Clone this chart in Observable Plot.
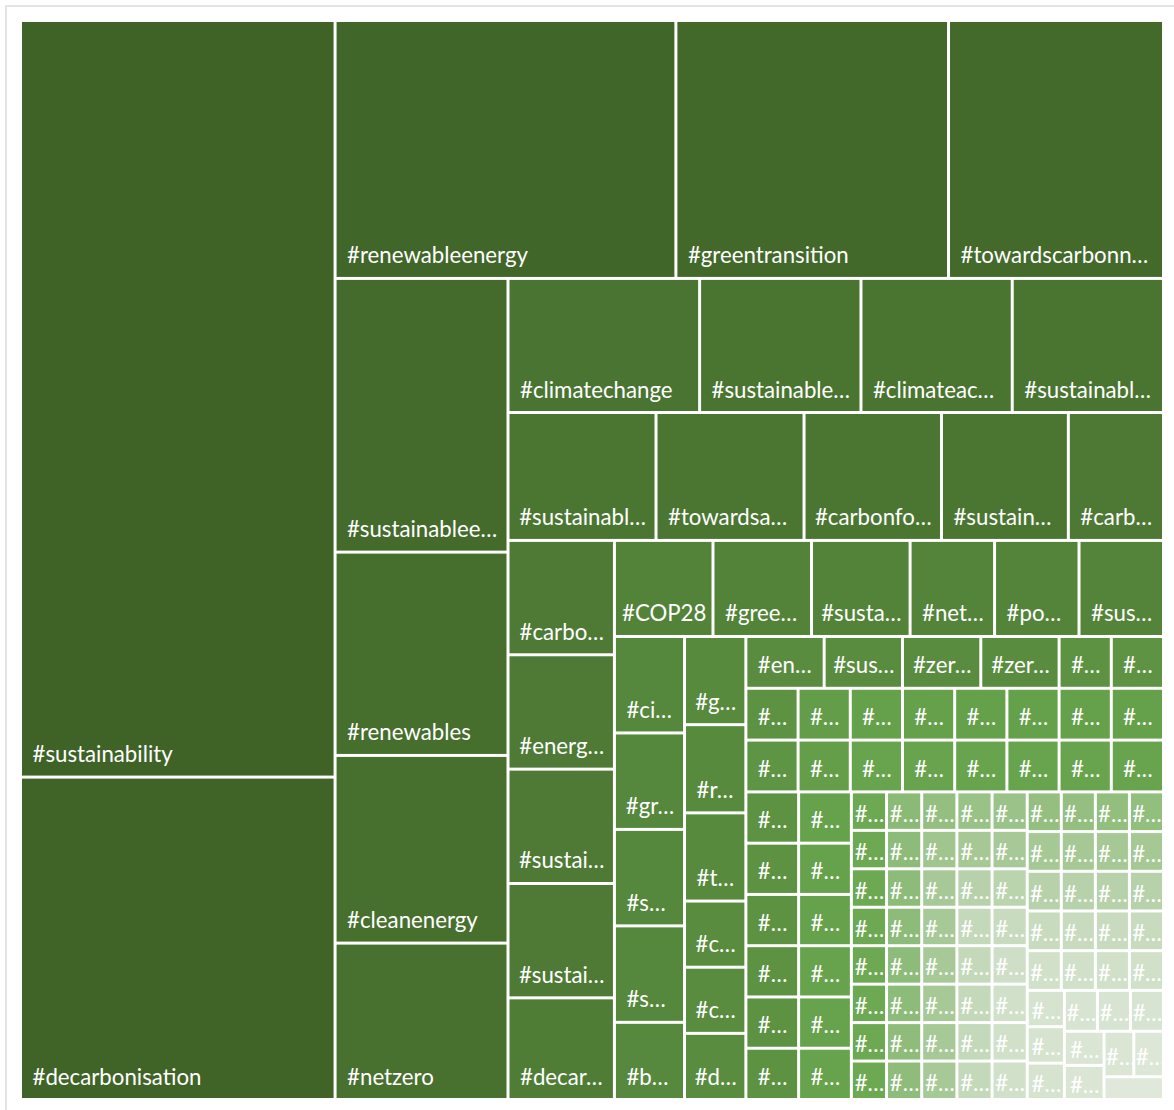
<!DOCTYPE html>
<html>
<head>
<meta charset="utf-8">
<script src="https://cdn.jsdelivr.net/npm/d3@7"></script>
<script src="https://cdn.jsdelivr.net/npm/@observablehq/plot@0.6"></script>
<style>
  html, body { margin: 0; padding: 0; background: #ffffff; overflow: hidden; }
  #frame { position: absolute; left: 5px; top: 5px; width: 1400px; height: 1200px; border: 2px solid #e4e4e4; box-sizing: content-box; }
  #chart { position: absolute; left: 0; top: 0; }
</style>
</head>
<body>
<div id="frame"></div>
<div id="chart"></div>
<script>
// ---- Data (hashtag label as shown, post count = tile size, colour measure = saturation) ----
const labels = [
  "#sustainability", "#decarbonisation", "#renewableenergy", "#greentransition", "#towardscarbonn…",
  "#sustainablee…", "#renewables", "#cleanenergy", "#netzero", "#climatechange",
  "#sustainable…", "#climateac…", "#sustainabl…", "#sustainabl…", "#towardsa…",
  "#carbonfo…", "#sustain…", "#carb…", "#carbo…", "#energ…",
  "#sustai…", "#sustai…", "#decar…", "#COP28", "#gree…",
  "#susta…", "#net…", "#po…", "#sus…", "#ci…",
  "#gr…", "#s…", "#s…", "#b…", "#g…",
  "#r…", "#t…", "#c…", "#c…", "#d…",
  "#en…", "#sus…", "#zer…", "#zer…",
  // 30 tiles with count 2
  "#…", "#…", "#…", "#…", "#…", "#…", "#…", "#…", "#…", "#…",
  "#…", "#…", "#…", "#…", "#…", "#…", "#…", "#…", "#…", "#…",
  "#…", "#…", "#…", "#…", "#…", "#…", "#…", "#…", "#…", "#…",
  // 71 tiles with count 1
  "#…", "#…", "#…", "#…", "#…", "#…", "#…", "#…", "#…", "#…",
  "#…", "#…", "#…", "#…", "#…", "#…", "#…", "#…", "#…", "#…",
  "#…", "#…", "#…", "#…", "#…", "#…", "#…", "#…", "#…", "#…",
  "#…", "#…", "#…", "#…", "#…", "#…", "#…", "#…", "#…", "#…",
  "#…", "#…", "#…", "#…", "#…", "#…", "#…", "#…", "#…", "#…",
  "#…", "#…", "#…", "#…", "#…", "#…", "#…", "#…", "#…", "#…",
  "#…", "#…", "#…", "#…", "#…", "#…", "#…", "#…", "#…", "#…",
  "#…"
];

const counts = [
  176, 75, 65, 52, 41, 35, 26, 24, 20, 19,
  16, 15, 15, 14, 14, 13, 12, 9, 9, 9,
  9, 9, 8, 7, 7, 7, 6, 6, 6, 5,
  5, 5, 5, 4, 4, 4, 4, 3, 3, 3,
  3, 3, 3, 3,
  2, 2, 2, 2, 2, 2, 2, 2, 2, 2,
  2, 2, 2, 2, 2, 2, 2, 2, 2, 2,
  2, 2, 2, 2, 2, 2, 2, 2, 2, 2,
  1, 1, 1, 1, 1, 1, 1, 1, 1, 1,
  1, 1, 1, 1, 1, 1, 1, 1, 1, 1,
  1, 1, 1, 1, 1, 1, 1, 1, 1, 1,
  1, 1, 1, 1, 1, 1, 1, 1, 1, 1,
  1, 1, 1, 1, 1, 1, 1, 1, 1, 1,
  1, 1, 1, 1, 1, 1, 1, 1, 1, 1,
  1, 1, 1, 1, 1, 1, 1, 1, 1, 1,
  1
];

// colour-saturation measure (0 = palest, 100 = darkest)
const shades = [
  100, 99, 98, 96, 95, 94, 92, 91, 90, 88,
  87, 87, 87, 86, 86, 86, 86, 84, 83, 83,
  83, 83, 81, 77, 77, 77, 76, 76, 76, 74,
  74, 74, 74, 73, 72, 72, 72, 70, 70, 70,
  70, 70, 70, 70,
  66, 65,
  66, 58, 56, 56, 56, 56, 56, 56,
  64, 57, 53, 53, 53, 53, 53, 53,
  66, 66, 66, 66, 66, 66,
  55, 55, 55, 54, 54, 54,
  49, 49, 49, 49, 49, 49, 49, 49,
  36, 35, 35, 35, 35, 35, 34, 34,
  32, 27, 24, 24, 24, 24, 24, 24,
  30, 25, 17, 12, 12, 12, 12, 12,
  29, 24, 16, 10, 7, 6, 6, 6,
  32, 32, 33, 33,
  25, 25, 25, 25,
  17, 17, 17, 17,
  10, 10, 10, 10,
  6, 6, 6, 6,
  4, 4, 4,
  3, 3, 3,
  2, 2,
  2, 1,
  0
];

// tiling strips: [number of tiles, "v" = column at left, "h" = row at top]
const strips = [
  [2, "v"], [3, "h"], [4, "v"], [4, "h"], [5, "h"], [5, "v"], [6, "h"], [5, "v"], [6, "v"],
  [6, "h"], [8, "h"], [8, "h"], [6, "v"], [6, "v"],
  [8, "v"], [8, "v"], [8, "v"], [8, "v"], [8, "v"],
  [4, "h"], [4, "h"], [4, "h"], [4, "h"], [4, "h"],
  [3, "v"], [3, "h"], [2, "v"], [2, "h"], [1, "h"]
];

// ---- Layout through d3.treemap with a strip tiler ----
const W = 1143, H = 1079;
const items = labels.map((label, i) => ({label, count: counts[i], shade: shades[i]}));

function stripTile(parent, x0, y0, x1, y1) {
  const nodes = parent.children;
  let remaining = d3.sum(nodes, d => d.value);
  let i = 0, s = 0;
  while (i < nodes.length) {
    const st = strips[s++] || [nodes.length - i, (x1 - x0) < (y1 - y0) ? "h" : "v"];
    const group = nodes.slice(i, i + st[0]);
    const sum = d3.sum(group, d => d.value);
    if (st[1] === "h") {
      const h = (y1 - y0) * sum / remaining;
      let x = x0;
      for (const g of group) {
        const w = (x1 - x0) * g.value / sum;
        g.x0 = x; g.x1 = x + w; g.y0 = y0; g.y1 = y0 + h;
        x += w;
      }
      y0 += h;
    } else {
      const w = (x1 - x0) * sum / remaining;
      let y = y0;
      for (const g of group) {
        const h = (y1 - y0) * g.value / sum;
        g.x0 = x0; g.x1 = x0 + w; g.y0 = y; g.y1 = y + h;
        y += h;
      }
      x0 += w;
    }
    remaining -= sum;
    i += group.length;
  }
}

const root = d3.hierarchy({children: items}).sum(d => d.count || 0);
d3.treemap().tile(stripTile).size([W, H]).round(false)(root);

const cells = root.leaves().map(n => ({
  label: n.data.label, count: n.data.count, shade: n.data.shade,
  x0: n.x0, x1: n.x1, y0: n.y0, y1: n.y1
}));

// ---- Label placement (bottom-left, Calibri-like metrics) ----
const FONT = "Lato";
const ctx = document.createElement("canvas").getContext("2d");
ctx.font = `24px ${FONT}`;
const fontSize = Math.min(24, 24 * 181 / ctx.measureText("#renewableenergy").width);
ctx.font = `${fontSize}px ${FONT}`;
const inset = 1.5;
const labelled = cells.filter(d => (d.y1 - d.y0 - 2 * inset) >= 28).map(d => {
  const w = d.x1 - d.x0 - 2 * inset;
  const h = d.y1 - d.y0 - 2 * inset;
  const tw = ctx.measureText(d.label).width;
  const padX = Math.min(10, Math.max(0, (w - tw) / 2));
  const padY = Math.min(8, Math.max(0, (h - 32) / 2));
  return {label: d.label, tx: d.x0 + inset + padX, ty: d.y1 - inset - padY - 6};
});

const chart = Plot.plot({
  width: 1174,
  height: 1110,
  margin: 0,
  style: {background: "none"},
  x: {domain: [0, W], range: [20.5, 20.5 + W], axis: null},
  y: {domain: [0, H], range: [20.5, 20.5 + H], axis: null},
  color: {type: "linear", domain: [0, 50, 100], range: ["#dfe8da", "#6aa84f", "#3f6327"]},
  marks: [
    Plot.rect(cells, {x1: "x0", x2: "x1", y1: "y0", y2: "y1", fill: "shade", inset}),
    Plot.text(labelled, {
      x: "tx", y: "ty", text: "label",
      textAnchor: "start", lineAnchor: "bottom",
      fill: "white", fontSize, fontFamily: FONT
    })
  ]
});
document.getElementById("chart").appendChild(chart);
</script>
</body>
</html>
